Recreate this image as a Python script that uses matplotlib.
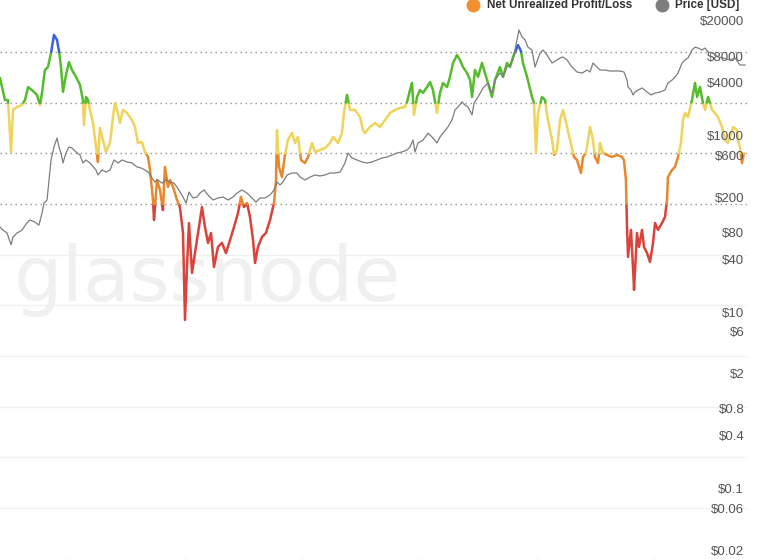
import matplotlib
matplotlib.use("Agg")
import matplotlib.pyplot as plt
from matplotlib.lines import Line2D
import numpy as np

# Net Unrealized Profit/Loss (decimal year, ratio)
nupl_date = [
    2013.429, 2013.471, 2013.497, 2013.523, 2013.540, 2013.574, 2013.616, 2013.642, 2013.668, 2013.702,
    2013.744, 2013.770, 2013.787, 2013.812, 2013.838, 2013.864, 2013.889, 2013.915, 2013.932, 2013.949,
    2013.966, 2013.991, 2014.017, 2014.043, 2014.077, 2014.111, 2014.136, 2014.145, 2014.162, 2014.179,
    2014.196, 2014.222, 2014.247, 2014.264, 2014.281, 2014.307, 2014.332, 2014.367, 2014.392, 2014.409,
    2014.426, 2014.452, 2014.477, 2014.512, 2014.554, 2014.580, 2014.605, 2014.639, 2014.665, 2014.691,
    2014.708, 2014.733, 2014.742, 2014.767, 2014.793, 2014.818, 2014.835, 2014.861, 2014.878, 2014.904,
    2014.938, 2014.963, 2014.989, 2015.006, 2015.023, 2015.040, 2015.066, 2015.091, 2015.117, 2015.151,
    2015.176, 2015.202, 2015.228, 2015.253, 2015.287, 2015.321, 2015.355, 2015.390, 2015.424, 2015.458,
    2015.483, 2015.509, 2015.535, 2015.560, 2015.586, 2015.603, 2015.628, 2015.662, 2015.696, 2015.731,
    2015.765, 2015.782, 2015.790, 2015.807, 2015.833, 2015.858, 2015.884, 2015.918, 2015.944, 2015.969,
    2015.995, 2016.029, 2016.055, 2016.089, 2016.114, 2016.157, 2016.199, 2016.242, 2016.268, 2016.310,
    2016.344, 2016.361, 2016.387, 2016.413, 2016.455, 2016.498, 2016.523, 2016.540, 2016.583, 2016.626,
    2016.668, 2016.711, 2016.754, 2016.796, 2016.839, 2016.881, 2016.899, 2016.924, 2016.941, 2016.958,
    2016.984, 2017.009, 2017.035, 2017.069, 2017.095, 2017.120, 2017.154, 2017.180, 2017.205, 2017.240,
    2017.265, 2017.291, 2017.325, 2017.350, 2017.376, 2017.410, 2017.436, 2017.453, 2017.478, 2017.504,
    2017.538, 2017.563, 2017.589, 2017.623, 2017.649, 2017.691, 2017.717, 2017.751, 2017.777, 2017.802,
    2017.845, 2017.870, 2017.887, 2017.922, 2017.964, 2017.981, 2017.998, 2018.015, 2018.049, 2018.075,
    2018.100, 2018.135, 2018.152, 2018.177, 2018.203, 2018.228, 2018.263, 2018.288, 2018.322, 2018.348,
    2018.382, 2018.399, 2018.424, 2018.442, 2018.459, 2018.484, 2018.501, 2018.527, 2018.544, 2018.569,
    2018.604, 2018.646, 2018.689, 2018.731, 2018.748, 2018.765, 2018.774, 2018.783, 2018.808, 2018.825,
    2018.834, 2018.859, 2018.876, 2018.902, 2018.919, 2018.945, 2018.970, 2018.996, 2019.013, 2019.038,
    2019.072, 2019.098, 2019.115, 2019.123, 2019.158, 2019.183, 2019.209, 2019.234, 2019.251, 2019.268,
    2019.294, 2019.328, 2019.354, 2019.371, 2019.396, 2019.422, 2019.439, 2019.465, 2019.499, 2019.524,
    2019.550, 2019.584, 2019.610, 2019.635, 2019.678, 2019.712, 2019.720, 2019.737, 2019.754, 2019.771,
]
nupl_value = [
    0.622, 0.513, 0.513, 0.257, 0.464, 0.479, 0.488, 0.513, 0.577, 0.562,
    0.538, 0.488, 0.548, 0.661, 0.676, 0.745, 0.834, 0.809, 0.755, 0.676,
    0.553, 0.636, 0.700, 0.661, 0.627, 0.587, 0.513, 0.390, 0.528, 0.513,
    0.464, 0.400, 0.281, 0.207, 0.375, 0.316, 0.257, 0.301, 0.429, 0.498,
    0.464, 0.400, 0.464, 0.449, 0.414, 0.380, 0.301, 0.306, 0.257, 0.232,
    0.168, 0.020, -0.079, 0.118, 0.069, -0.030, 0.183, 0.084, 0.118, 0.084,
    0.020, -0.015, -0.143, -0.572, -0.311, -0.094, -0.340, -0.242, -0.143, -0.015,
    -0.113, -0.192, -0.143, -0.311, -0.212, -0.192, -0.242, -0.178, -0.113, -0.044,
    0.035, -0.015, 0.005, -0.064, -0.178, -0.291, -0.212, -0.163, -0.143, -0.079,
    0.005, 0.118, 0.365, 0.183, 0.133, 0.242, 0.316, 0.350, 0.301, 0.331,
    0.217, 0.202, 0.232, 0.301, 0.257, 0.266, 0.276, 0.301, 0.331, 0.301,
    0.350, 0.449, 0.538, 0.464, 0.464, 0.429, 0.365, 0.350, 0.380, 0.400,
    0.380, 0.414, 0.449, 0.464, 0.474, 0.479, 0.503, 0.562, 0.597, 0.439,
    0.528, 0.562, 0.548, 0.577, 0.602, 0.562, 0.449, 0.548, 0.597, 0.577,
    0.627, 0.696, 0.735, 0.710, 0.676, 0.646, 0.612, 0.528, 0.661, 0.627,
    0.696, 0.646, 0.597, 0.528, 0.612, 0.676, 0.627, 0.696, 0.676, 0.725,
    0.784, 0.755, 0.696, 0.627, 0.528, 0.498, 0.252, 0.449, 0.528, 0.513,
    0.414, 0.316, 0.242, 0.266, 0.414, 0.464, 0.380, 0.316, 0.232, 0.217,
    0.153, 0.232, 0.252, 0.316, 0.380, 0.316, 0.232, 0.202, 0.301, 0.252,
    0.242, 0.232, 0.242, 0.232, 0.217, 0.118, -0.113, -0.261, -0.128, -0.311,
    -0.424, -0.143, -0.212, -0.128, -0.212, -0.242, -0.286, -0.192, -0.094, -0.128,
    -0.094, -0.064, 0.020, 0.133, 0.168, 0.183, 0.232, 0.301, 0.414, 0.449,
    0.429, 0.513, 0.597, 0.528, 0.577, 0.498, 0.464, 0.528, 0.464, 0.449,
    0.429, 0.380, 0.316, 0.301, 0.380, 0.365, 0.316, 0.281, 0.202, 0.252,
]

# Price [USD] (decimal year, USD)
price_date = [
    2013.429, 2013.455, 2013.489, 2013.523, 2013.540, 2013.574, 2013.616, 2013.659, 2013.685, 2013.727,
    2013.761, 2013.787, 2013.804, 2013.830, 2013.847, 2013.864, 2013.889, 2013.915, 2013.932, 2013.949,
    2013.966, 2013.991, 2014.017, 2014.043, 2014.077, 2014.111, 2014.136, 2014.162, 2014.196, 2014.247,
    2014.264, 2014.299, 2014.332, 2014.367, 2014.401, 2014.435, 2014.469, 2014.512, 2014.554, 2014.597,
    2014.631, 2014.665, 2014.691, 2014.725, 2014.750, 2014.776, 2014.810, 2014.844, 2014.878, 2014.912,
    2014.938, 2014.963, 2014.989, 2015.015, 2015.040, 2015.074, 2015.108, 2015.134, 2015.168, 2015.202,
    2015.245, 2015.287, 2015.330, 2015.373, 2015.415, 2015.449, 2015.492, 2015.535, 2015.577, 2015.611,
    2015.646, 2015.688, 2015.731, 2015.765, 2015.790, 2015.816, 2015.842, 2015.876, 2015.918, 2015.961,
    2015.987, 2016.029, 2016.072, 2016.114, 2016.157, 2016.199, 2016.242, 2016.285, 2016.328, 2016.370,
    2016.396, 2016.430, 2016.472, 2016.515, 2016.558, 2016.600, 2016.643, 2016.686, 2016.728, 2016.771,
    2016.813, 2016.856, 2016.899, 2016.924, 2016.950, 2016.967, 2016.992, 2017.035, 2017.078, 2017.112,
    2017.154, 2017.180, 2017.205, 2017.248, 2017.282, 2017.308, 2017.333, 2017.368, 2017.393, 2017.419,
    2017.453, 2017.470, 2017.504, 2017.547, 2017.589, 2017.623, 2017.649, 2017.691, 2017.717, 2017.751,
    2017.777, 2017.802, 2017.836, 2017.853, 2017.879, 2017.905, 2017.930, 2017.964, 2017.990, 2018.033,
    2018.058, 2018.092, 2018.135, 2018.177, 2018.203, 2018.228, 2018.263, 2018.305, 2018.348, 2018.391,
    2018.433, 2018.459, 2018.484, 2018.518, 2018.544, 2018.587, 2018.629, 2018.672, 2018.715, 2018.748,
    2018.774, 2018.783, 2018.808, 2018.825, 2018.842, 2018.868, 2018.902, 2018.945, 2018.979, 2019.013,
    2019.056, 2019.098, 2019.123, 2019.158, 2019.183, 2019.209, 2019.243, 2019.268, 2019.294, 2019.328,
    2019.354, 2019.379, 2019.414, 2019.439, 2019.465, 2019.507, 2019.550, 2019.593, 2019.652, 2019.695,
    2019.737, 2019.780,
]
price_usd = [
    92, 85, 79, 58, 71, 79, 85, 103, 111, 105,
    97, 133, 173, 187, 315, 531, 745, 942, 745, 637,
    491, 637, 745, 726, 655, 605, 491, 531, 491, 409,
    359, 409, 388, 409, 531, 491, 531, 504, 491, 443,
    431, 409, 388, 332, 299, 315, 291, 315, 299, 291,
    262, 230, 202, 173, 230, 197, 202, 224, 243, 213,
    187, 197, 202, 187, 202, 224, 243, 224, 197, 177,
    197, 197, 213, 243, 299, 277, 299, 359, 378, 378,
    340, 315, 340, 359, 350, 359, 378, 378, 388, 491,
    637, 560, 531, 504, 491, 504, 531, 560, 574, 605,
    637, 655, 689, 745, 895, 655, 828, 895, 1070, 968,
    828, 968, 1070, 1260, 1510, 1960, 2120, 2420, 2230, 2120,
    1720, 2350, 2750, 3480, 3960, 3050, 4280, 5140, 4630, 6020,
    6340, 7220, 12200, 15800, 13200, 12200, 10100, 9380, 6020, 8670,
    9380, 8240, 6680, 7220, 7610, 7820, 7220, 6020, 5280, 5140,
    5560, 5280, 6680, 6020, 5560, 5560, 5420, 5420, 5420, 5280,
    4280, 3570, 3300, 2900, 3130, 3300, 3480, 3130, 2900, 3050,
    3130, 3300, 3960, 4280, 4630, 5140, 6680, 7220, 7610, 9380,
    10100, 9880, 9380, 9880, 8910, 8670, 7820, 7610, 7220, 7610,
    6340, 6340,
]

price_ticks = [20000, 8000, 4000, 1000, 600, 200, 80, 40, 10, 6, 2, 0.8, 0.4, 0.1, 0.06, 0.02]
price_tick_labels = ["$20000", "$8000", "$4000", "$1000", "$600", "$200", "$80", "$40",
                     "$10", "$6", "$2", "$0.8", "$0.4", "$0.1", "$0.06", "$0.02"]
year_ticks = [2014, 2015, 2016, 2017, 2018, 2019]

# colour bands of the NUPL line
band_edges = [-5, 0, 0.25, 0.5, 0.75, 5]
band_colors = ["#d9433b", "#e9872d", "#f0d35a", "#55bd2d", "#3e5fdc"]


def split_at_levels(x, y, levels):
    # put a point on every band edge the line crosses, so each colour ends cleanly
    xs, ys = [x[0]], [y[0]]
    for i in range(1, len(x)):
        x0, y0, x1, y1 = x[i - 1], y[i - 1], x[i], y[i]
        cross = sorted([l for l in levels if (y0 - l) * (y1 - l) < 0], reverse=y1 < y0)
        for l in cross:
            f = (l - y0) / (y1 - y0)
            xs.append(x0 + f * (x1 - x0))
            ys.append(l)
        xs.append(x1)
        ys.append(y1)
    return np.array(xs), np.array(ys)


fig = plt.figure(figsize=(7.68, 5.6), dpi=100)
ax = fig.add_axes([0, 1.3 / 560, 747 / 768, 1 - 1.3 / 560])
ax2 = ax.twinx()

# watermark
ax.text(2013.55, -0.48, "glassnode", fontsize=55, color="#f0f0f0", family="DejaVu Sans",
        ha="left", va="baseline", zorder=0)

# grid: dotted above zero, faint solid below
for lv in [0, 0.25, 0.5, 0.75]:
    ax.axhline(lv, color="#939393", lw=1, ls=(0, (1, 2.6)), zorder=1)
for lv in [-0.25, -0.5, -0.75, -1.0, -1.25, -1.5, -1.75]:
    ax.axhline(lv, color="#f0f0f0", lw=1, zorder=1)

xs, ys = split_at_levels(nupl_date, nupl_value, band_edges[1:-1])
for lo, hi, c in zip(band_edges[:-1], band_edges[1:], band_colors):
    inside = (ys >= lo - 1e-9) & (ys <= hi + 1e-9)
    ax.plot(xs, np.where(inside, ys, np.nan), color=c, lw=1.8,
            solid_capstyle="round", solid_joinstyle="round", zorder=3)

ax.set_xlim(2013.429, 2019.797)
ax.set_ylim(-1.75, 1.0064)
ax.set_yticks([])
ax.set_xticks(year_ticks)
ax.tick_params(axis="x", length=3, color="#dddddd", labelbottom=False)

ax2.plot(price_date, price_usd, color="#7d7d7d", lw=0.9, zorder=4)
ax2.set_yscale("log")
ax2.set_ylim(0.01603, 34600)
ax2.set_yticks(price_ticks)
ax2.set_yticklabels(price_tick_labels)
ax2.yaxis.set_minor_locator(matplotlib.ticker.NullLocator())
ax2.tick_params(axis="y", length=0, pad=-2, labelsize=9.5, labelcolor="#555555")
for lbl in ax2.get_yticklabels():
    lbl.set_ha("right")
    lbl.set_family(["Liberation Sans", "DejaVu Sans"])

for a in (ax, ax2):
    for s in a.spines.values():
        s.set_visible(False)

# legend along the top edge
fig.add_artist(Line2D([473 / 768], [1 - 5 / 560], marker="o", ms=9, color="#f0902f",
                      transform=fig.transFigure))
fig.text(487 / 768, 1 - 5 / 560, "Net Unrealized Profit/Loss", ha="left", va="center",
         fontsize=8.4, color="#333333", family=["Liberation Sans", "DejaVu Sans"], fontweight="bold")
fig.add_artist(Line2D([662 / 768], [1 - 5 / 560], marker="o", ms=9, color="#7d7d7d",
                      transform=fig.transFigure))
fig.text(675 / 768, 1 - 5 / 560, "Price [USD]", ha="left", va="center",
         fontsize=8.4, color="#333333", family=["Liberation Sans", "DejaVu Sans"], fontweight="bold")

fig.savefig("out.png", dpi=100, facecolor="white")
